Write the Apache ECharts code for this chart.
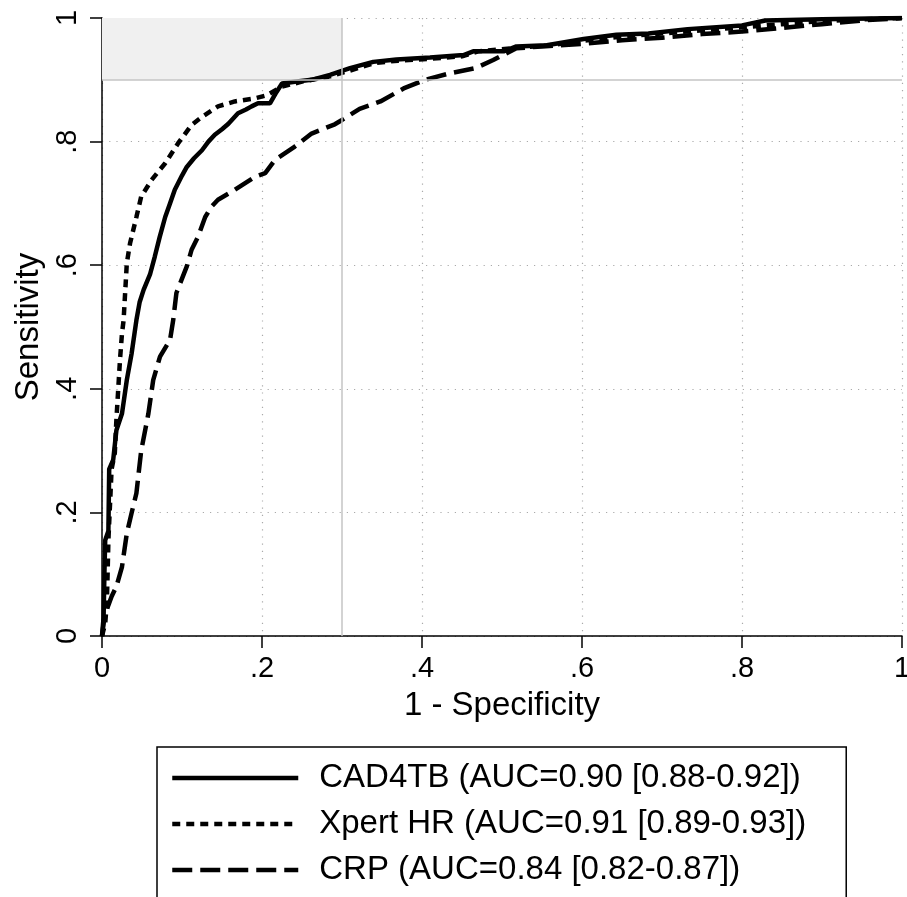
<!DOCTYPE html>
<html>
<head>
<meta charset="utf-8">
<script src="https://cdn.jsdelivr.net/npm/echarts@6/dist/echarts.min.js"></script>
<style>
html,body{margin:0;padding:0;background:#fff;}
#chart{width:907px;height:897px;}
</style>
</head>
<body>
<div id="chart"></div>
<script>
var seriesNames = ['CAD4TB (AUC=0.90 [0.88-0.92])', 'Xpert HR (AUC=0.91 [0.89-0.93])', 'CRP (AUC=0.84 [0.82-0.87])'];
var tickLabels = {0: '0', 0.2: '.2', 0.4: '.4', 0.6: '.6', 0.8: '.8', 1: '1'};

var cad4tb = [[0,0],[0.002,0.03],[0.003,0.1],[0.004,0.155],[0.008,0.17],[0.009,0.27],[0.014,0.285],[0.018,0.333],[0.025,0.36],[0.031,0.414],[0.037,0.457],[0.043,0.511],[0.047,0.54],[0.052,0.56],[0.06,0.585],[0.066,0.614],[0.072,0.645],[0.079,0.678],[0.085,0.70],[0.091,0.722],[0.1,0.745],[0.106,0.759],[0.115,0.773],[0.125,0.786],[0.133,0.80],[0.141,0.811],[0.15,0.82],[0.158,0.829],[0.17,0.846],[0.18,0.852],[0.187,0.857],[0.195,0.862],[0.21,0.862],[0.218,0.88],[0.225,0.894],[0.241,0.897],[0.262,0.90],[0.285,0.908],[0.31,0.919],[0.339,0.929],[0.368,0.933],[0.41,0.936],[0.452,0.94],[0.464,0.946],[0.502,0.946],[0.518,0.954],[0.556,0.956],[0.602,0.966],[0.643,0.973],[0.683,0.975],[0.732,0.982],[0.8,0.988],[0.829,0.996],[0.9,0.998],[1,1]];

var xpert = [[0,0],[0.004,0.02],[0.006,0.053],[0.007,0.1],[0.008,0.155],[0.012,0.27],[0.016,0.296],[0.018,0.35],[0.0225,0.447],[0.025,0.49],[0.027,0.511],[0.031,0.603],[0.035,0.635],[0.043,0.678],[0.049,0.711],[0.062,0.738],[0.079,0.765],[0.095,0.797],[0.112,0.827],[0.125,0.840],[0.145,0.857],[0.166,0.865],[0.191,0.87],[0.206,0.875],[0.225,0.889],[0.25,0.897],[0.283,0.905],[0.31,0.915],[0.34,0.927],[0.37,0.931],[0.41,0.934],[0.45,0.938],[0.47,0.946],[0.52,0.952],[0.56,0.956],[0.6,0.963],[0.65,0.97],[0.7,0.975],[0.75,0.98],[0.8,0.985],[0.85,0.99],[0.9,0.995],[0.95,0.998],[1,1]];

var crp = [[0,0],[0.003,0.03],[0.008,0.05],[0.012,0.064],[0.018,0.08],[0.025,0.112],[0.031,0.166],[0.037,0.199],[0.043,0.231],[0.049,0.30],[0.058,0.36],[0.064,0.414],[0.0725,0.452],[0.085,0.479],[0.089,0.511],[0.093,0.555],[0.106,0.598],[0.112,0.625],[0.12,0.646],[0.129,0.678],[0.137,0.695],[0.145,0.706],[0.166,0.722],[0.191,0.743],[0.204,0.749],[0.216,0.770],[0.241,0.792],[0.262,0.813],[0.291,0.828],[0.3,0.835],[0.322,0.853],[0.348,0.865],[0.377,0.886],[0.404,0.90],[0.433,0.91],[0.467,0.919],[0.489,0.932],[0.501,0.94],[0.518,0.951],[0.55,0.954],[0.6,0.958],[0.65,0.964],[0.7,0.968],[0.75,0.974],[0.8,0.978],[0.85,0.984],[0.9,0.99],[0.95,0.996],[1,1]];

var refX = 0.3, refY = 0.9;

var FONT = 'Liberation Sans, Arial, Helvetica, sans-serif';
var chart = echarts.init(document.getElementById('chart'), null, {renderer: 'canvas'});

function axisCommon() {
  return {
    type: 'value', min: 0, max: 1, interval: 0.2,
    axisLine: {show: true, onZero: false, lineStyle: {color: '#000', width: 1.5}},
    axisTick: {show: true, length: 12, lineStyle: {color: '#000', width: 1.5}},
    axisLabel: {
      color: '#000', fontSize: 29, fontFamily: FONT,
      formatter: function (v) { var k = Math.round(v * 10) / 10; return tickLabels[k] !== undefined ? tickLabels[k] : ''; }
    },
    splitLine: {show: true, lineStyle: {color: '#aaa', width: 1.2, type: [1.2, 6]}},
    nameTextStyle: {color: '#000', fontSize: 33, fontFamily: FONT}
  };
}

var xAxis = axisCommon();
xAxis.name = '1 - Specificity';
xAxis.nameLocation = 'middle';
xAxis.nameGap = 53;
xAxis.axisLabel.margin = 18;

var yAxis = axisCommon();
yAxis.name = 'Sensitivity';
yAxis.nameLocation = 'middle';
yAxis.nameGap = 57;
yAxis.axisLabel.rotate = 90;
yAxis.axisLabel.margin = 20;

var lineW = 4.5;
var option = {
  animation: false,
  backgroundColor: '#fff',
  grid: {left: 102, right: 5, top: 18, bottom: 261, containLabel: false, outerBoundsMode: 'none'},
  xAxis: xAxis,
  yAxis: yAxis,
  legend: {
    orient: 'vertical',
    left: 157, top: 747,
    height: 400,
    padding: [8, 40, 30, 13],
    itemGap: 0,
    itemWidth: 126, itemHeight: 20,
    borderColor: '#000', borderWidth: 1.5,
    itemStyle: {opacity: 0},
    lineStyle: {width: 4.5, color: '#000'},
    textStyle: {color: '#000', fontSize: 33, fontFamily: FONT, lineHeight: 46, padding: [0, 0, 0, 16]},
    data: seriesNames
  },
  series: [
    {
      name: seriesNames[0], type: 'line', data: cad4tb, symbol: 'none', z: 4,
      lineStyle: {color: '#000', width: lineW, type: 'solid'},
      markArea: {
        silent: true,
        itemStyle: {color: '#f0f0f0'},
        data: [[{xAxis: 0, yAxis: refY}, {xAxis: refX, yAxis: 1}]]
      },
      markLine: {
        silent: true, symbol: 'none', label: {show: false},
        lineStyle: {color: '#c4c4c4', width: 1.5, type: 'solid'},
        data: [{xAxis: refX}, {yAxis: refY}]
      }
    },
    {
      name: seriesNames[1], type: 'line', data: xpert, symbol: 'none', z: 3,
      lineStyle: {color: '#000', width: lineW, type: [8, 6]}
    },
    {
      name: seriesNames[2], type: 'line', data: crp, symbol: 'none', z: 3,
      lineStyle: {color: '#000', width: lineW, type: [20, 8]}
    }
  ]
};
chart.setOption(option);
</script>
</body>
</html>
